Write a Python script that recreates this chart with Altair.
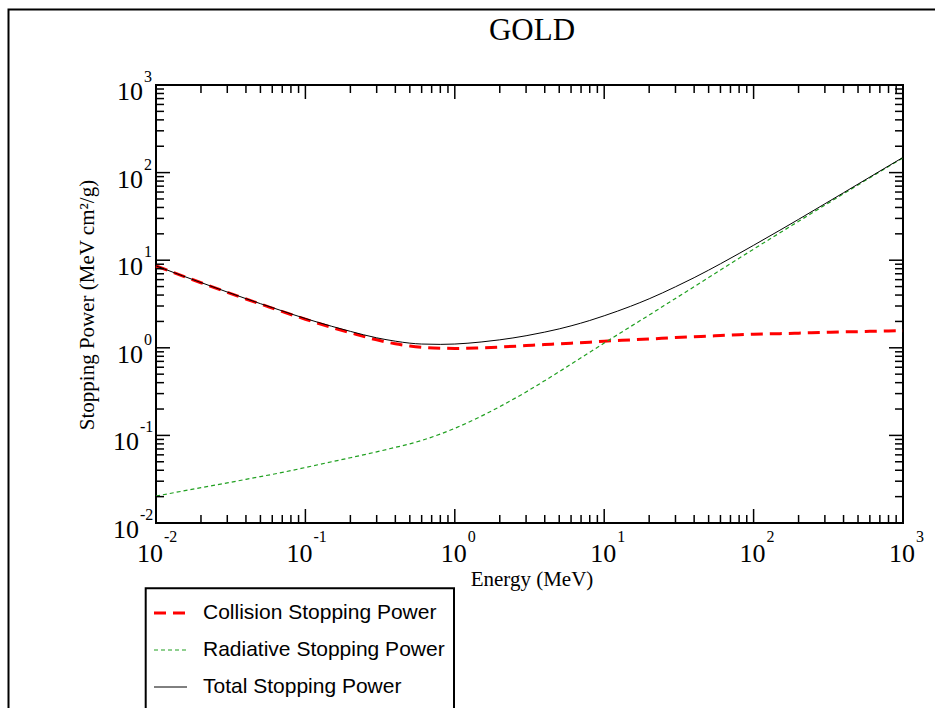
import altair as alt
import pandas as pd

# ---------------- data ----------------
energy = [0.01, 0.015, 0.02, 0.03, 0.04, 0.05, 0.06, 0.08, 0.1, 0.15, 0.2, 0.3,
          0.4, 0.5, 0.6, 0.8, 1, 1.5, 2, 3, 4, 5, 6, 8, 10, 15, 20, 30, 40, 50,
          60, 80, 100, 150, 200, 300, 400, 500, 600, 800, 1000]
collision = [8.60, 6.63, 5.53, 4.30, 3.61, 3.16, 2.84, 2.40, 2.12, 1.71, 1.486, 1.233,
             1.112, 1.050, 1.016, 0.990, 0.983, 1.00, 1.02, 1.06, 1.09, 1.11, 1.13, 1.16,
             1.19, 1.23, 1.26, 1.31, 1.34, 1.36, 1.38, 1.41, 1.43, 1.45, 1.47, 1.50,
             1.52, 1.53, 1.54, 1.56, 1.57]
radiative = [0.0203, 0.0231, 0.0253, 0.0287, 0.0315, 0.0339, 0.0359, 0.0396, 0.0430,
             0.0500, 0.0556, 0.0649, 0.0730, 0.0800, 0.0876, 0.1035, 0.1205, 0.1654,
             0.2131, 0.3133, 0.4214, 0.5338, 0.650, 0.889, 1.131, 1.745, 2.366, 3.661,
             4.979, 6.34, 7.72, 10.53, 13.37, 20.55, 27.78, 42.53, 57.37, 72.35, 87.33,
             117.5, 147.5]
total = [8.62, 6.65, 5.56, 4.33, 3.64, 3.19, 2.88, 2.44, 2.16, 1.76, 1.54, 1.30,
         1.19, 1.13, 1.104, 1.094, 1.104, 1.165, 1.233, 1.373, 1.511, 1.644, 1.780,
         2.049, 2.321, 2.975, 3.626, 4.971, 6.319, 7.70, 9.10, 11.94, 14.80, 22.00,
         29.25, 44.03, 58.89, 73.88, 88.87, 119.06, 149.07]

series_names = ["Collision Stopping Power", "Radiative Stopping Power", "Total Stopping Power"]
series_colors = ["#ff0000", "#20a020", "#000000"]

title_text = "GOLD"
x_title = "Energy (MeV)"
y_title = "Stopping Power (MeV cm\u00b2/g)"

decades = [0.01, 0.1, 1, 10, 100, 1000]
exponents = ["-2", "-1", "0", "1", "2", "3"]
minor_mult = [2, 3, 4, 5, 6, 7, 8, 9]

# ---------------- layout ----------------
W, H = 747, 438
PAD = {"left": 156, "top": 85, "right": 32, "bottom": 185}
SERIF = "Liberation Serif"
SANS = "Liberation Sans"

df = pd.DataFrame({"E": energy, "col": collision, "rad": radiative, "tot": total})
major_df = pd.DataFrame({"t": decades, "exp": exponents})
minor_df = pd.DataFrame({"t": [m * d for d in decades[:-1] for m in minor_mult]})
neg_df = major_df[major_df["exp"].str.startswith("-")]
pos_df = major_df[~major_df["exp"].str.startswith("-")]
one = pd.DataFrame({"a": [0]})

xs = alt.Scale(type="log", domain=[0.01, 1000], nice=False)
ys = alt.Scale(type="log", domain=[0.01, 1000], nice=False)


def X(f):
    return alt.X(f, type="quantitative", scale=xs, axis=None)


def Y(f):
    return alt.Y(f, type="quantitative", scale=ys, axis=None)


layers = []

# curves
styles = [("col", series_colors[0], [12, 7], 3), ("rad", series_colors[1], [4, 3], 1.2),
          ("tot", series_colors[2], None, 1)]
for field, color, dash, sw in styles:
    kw = dict(color=color, strokeWidth=sw, interpolate="monotone")
    if dash:
        kw["strokeDash"] = dash
    layers.append(alt.Chart(df).mark_line(**kw).encode(x=X("E"), y=Y(field)))

# inward ticks on all four sides
for d, ln in ((major_df, 14), (minor_df, 8)):
    layers.append(alt.Chart(d).mark_rule(color="black", strokeWidth=1.5).encode(
        x=X("t"), y=alt.value(H), y2=alt.value(H - ln)))
    layers.append(alt.Chart(d).mark_rule(color="black", strokeWidth=1.5).encode(
        x=X("t"), y=alt.value(0), y2=alt.value(ln)))
    layers.append(alt.Chart(d).mark_rule(color="black", strokeWidth=1.5).encode(
        y=Y("t"), x=alt.value(0), x2=alt.value(ln)))
    layers.append(alt.Chart(d).mark_rule(color="black", strokeWidth=1.5).encode(
        y=Y("t"), x=alt.value(W), x2=alt.value(W - ln)))

# x tick labels: "10" + superscript exponent
for d, dx in ((neg_df, 7), (pos_df, 12)):
    layers.append(alt.Chart(d).mark_text(font=SERIF, fontSize=26, align="right",
                                         baseline="alphabetic", dx=dx).encode(
        x=X("t"), y=alt.value(H + 39), text=alt.value("10")))
    layers.append(alt.Chart(d).mark_text(font=SERIF, fontSize=16, align="left",
                                         baseline="alphabetic", dx=dx + 1).encode(
        x=X("t"), y=alt.value(H + 19), text=alt.Text("exp:N")))

# y tick labels
for d, xr in ((neg_df, -17), (pos_df, -13)):
    layers.append(alt.Chart(d).mark_text(font=SERIF, fontSize=26, align="right",
                                         baseline="alphabetic", dy=15).encode(
        y=Y("t"), x=alt.value(xr), text=alt.value("10")))
    layers.append(alt.Chart(d).mark_text(font=SERIF, fontSize=16, align="left",
                                         baseline="alphabetic", dy=-3).encode(
        y=Y("t"), x=alt.value(xr + 1), text=alt.Text("exp:N")))

# titles
layers.append(alt.Chart(one).mark_text(font=SERIF, fontSize=31, align="center",
                                       baseline="alphabetic").encode(
    x=alt.value(376), y=alt.value(-45), text=alt.value(title_text)))
layers.append(alt.Chart(one).mark_text(font=SERIF, fontSize=21, align="center",
                                       baseline="alphabetic").encode(
    x=alt.value(376), y=alt.value(H + 63), text=alt.value(x_title)))
layers.append(alt.Chart(one).mark_text(font=SERIF, fontSize=21, align="center",
                                       baseline="middle", angle=270).encode(
    x=alt.value(-68), y=alt.value(220), text=alt.value(y_title)))

# legend (drawn by hand, below the plot)
layers.append(alt.Chart(one).mark_rect(fillOpacity=0, stroke="black", strokeWidth=2).encode(
    x=alt.value(-10.3), x2=alt.value(298), y=alt.value(503.3), y2=alt.value(650)))
row_y = [528, 565, 602]
for i, (field, color, dash, sw) in enumerate(styles):
    kw = dict(color=color, strokeWidth=sw)
    if dash:
        kw["strokeDash"] = dash
    layers.append(alt.Chart(one).mark_rule(**kw).encode(
        x=alt.value(-2), x2=alt.value(31), y=alt.value(row_y[i])))
    layers.append(alt.Chart(one).mark_text(font=SANS, fontSize=21, align="left",
                                           baseline="middle").encode(
        x=alt.value(47), y=alt.value(row_y[i]), text=alt.value(series_names[i])))

# page frame (top-left corner visible)
layers.append(alt.Chart(one).mark_rect(fillOpacity=0, stroke="black", strokeWidth=2).encode(
    x=alt.value(-147.5), x2=alt.value(820), y=alt.value(-75.5), y2=alt.value(660)))

chart = alt.layer(*layers).properties(
    width=W, height=H,
    autosize=alt.AutoSizeParams(type="none"),
    padding=PAD,
    background="white",
).configure_view(stroke="black", strokeWidth=2)

chart.save("out.html", embed_options={"renderer": "svg", "actions": False})
